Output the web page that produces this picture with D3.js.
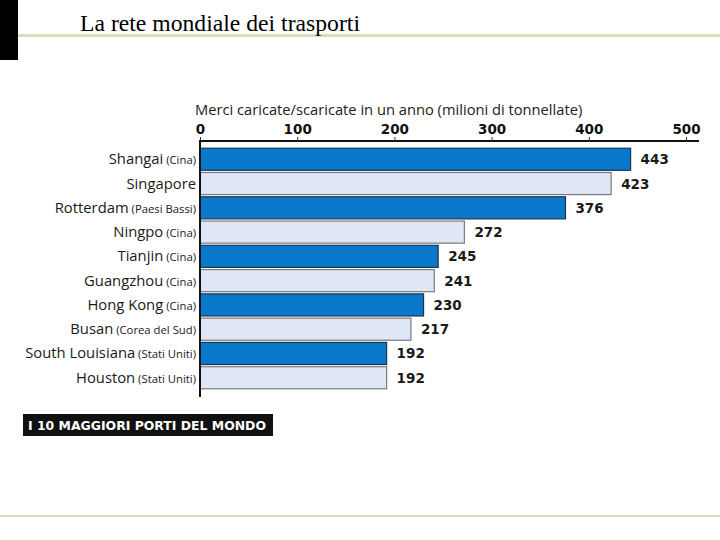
<!DOCTYPE html>
<html lang="it">
<head>
<meta charset="UTF-8">
<script src="https://d3js.org/d3.v7.min.js"></script>
<title>La rete mondiale dei trasporti</title>
<style>
  body { margin: 0; background: #fff; }
</style>
</head>
<body>
<script>
var ports = ["Shangai", "Singapore", "Rotterdam", "Ningpo", "Tianjin", "Guangzhou", "Hong Kong", "Busan", "South Louisiana", "Houston"];
var countries = ["(Cina)", "", "(Paesi Bassi)", "(Cina)", "(Cina)", "(Cina)", "(Cina)", "(Corea del Sud)", "(Stati Uniti)", "(Stati Uniti)"];
var tonnes = [443, 423, 376, 272, 245, 241, 230, 217, 192, 192];
var ticks = [0, 100, 200, 300, 400, 500];

var w = 720, h = 540;

var svg = d3.select("body").append("svg")
    .attr("width", w)
    .attr("height", h);

// slide frame
svg.append("rect").attr("x", 0).attr("y", 0).attr("width", 18).attr("height", 60).attr("fill", "#000");
svg.append("rect").attr("x", 18).attr("y", 34).attr("width", w - 18).attr("height", 3).attr("fill", "#dcdcb8");
svg.append("rect").attr("x", 0).attr("y", 515).attr("width", w).attr("height", 2).attr("fill", "#dcdcb8");
svg.append("text")
    .attr("x", 80).attr("y", 31)
    .attr("font-family", "Liberation Serif, serif")
    .attr("font-size", 23.5)
    .attr("textLength", 280)
    .attr("lengthAdjust", "spacingAndGlyphs")
    .text("La rete mondiale dei trasporti");

var x = d3.scaleLinear().domain([0, 500]).range([200, 686]);
var y = d3.scaleBand().domain(ports).range([147, 390]).paddingInner(0.09).paddingOuter(0.05);

// axis title
svg.append("text")
    .attr("x", 195).attr("y", 115)
    .attr("font-family", "Open Sans, sans-serif")
    .attr("font-size", 14.7)
    .attr("fill", "#222")
    .text("Merci caricate/scaricate in un anno (milioni di tonnellate)");

var xAxis = d3.axisTop(x).tickValues(ticks).tickSize(5).tickSizeOuter(0);
var gx = svg.append("g").attr("transform", "translate(0,141)").call(xAxis);
gx.select(".domain").attr("stroke", "#111").attr("stroke-width", 2).attr("d", "M199,0H699");
gx.selectAll(".tick line").attr("stroke", "#333").attr("transform", "translate(0,1)");
gx.selectAll(".tick text")
    .attr("font-family", "DejaVu Sans, sans-serif")
    .attr("font-weight", "bold")
    .attr("font-size", 13.5)
    .attr("fill", "#111")
    .attr("dy", "0.1em");

// bars
svg.selectAll("rect.bar")
    .data(tonnes)
    .enter()
    .append("rect")
    .attr("class", "bar")
    .attr("x", x(0))
    .attr("y", function(d, i) { return y(ports[i]); })
    .attr("width", function(d) { return x(d) - x(0); })
    .attr("height", y.bandwidth())
    .attr("fill", function(d, i) { return i % 2 == 0 ? "#0a79cc" : "#dfe7f6"; })
    .attr("stroke", function(d, i) { return i % 2 == 0 ? "#1b3550" : "#7a7a7a"; })
    .attr("stroke-width", 1.2);

// value labels
svg.selectAll("text.val")
    .data(tonnes)
    .enter()
    .append("text")
    .attr("class", "val")
    .attr("x", function(d) { return x(d) + 10; })
    .attr("y", function(d, i) { return y(ports[i]) + y.bandwidth() / 2 + 5; })
    .attr("font-family", "DejaVu Sans, sans-serif")
    .attr("font-weight", "bold")
    .attr("font-size", 13.5)
    .attr("fill", "#1a1a1a")
    .text(function(d) { return d; });

// category labels
var lab = svg.selectAll("text.cat")
    .data(ports)
    .enter()
    .append("text")
    .attr("class", "cat")
    .attr("x", 196)
    .attr("y", function(d) { return y(d) + y.bandwidth() / 2 + 5; })
    .attr("text-anchor", "end")
    .attr("font-family", "Open Sans, sans-serif")
    .attr("fill", "#1a1a1a");
lab.append("tspan").attr("font-size", 14.8).text(function(d) { return d; });
lab.append("tspan").attr("font-size", 11.3)
    .text(function(d, i) { return countries[i] ? " " + countries[i] : ""; });

// vertical axis line
svg.append("line")
    .attr("x1", x(0)).attr("x2", x(0))
    .attr("y1", 140).attr("y2", 397)
    .attr("stroke", "#111").attr("stroke-width", 2);

// banner
svg.append("rect").attr("x", 23).attr("y", 414).attr("width", 250).attr("height", 22).attr("fill", "#111");
svg.append("text")
    .attr("x", 28).attr("y", 430)
    .attr("font-family", "DejaVu Sans Condensed, DejaVu Sans, sans-serif")
    .attr("font-weight", "bold")
    .attr("font-size", 13)
    .attr("textLength", 238)
    .attr("lengthAdjust", "spacingAndGlyphs")
    .attr("fill", "#fff")
    .text("I 10 MAGGIORI PORTI DEL MONDO");
</script>
</body>
</html>
